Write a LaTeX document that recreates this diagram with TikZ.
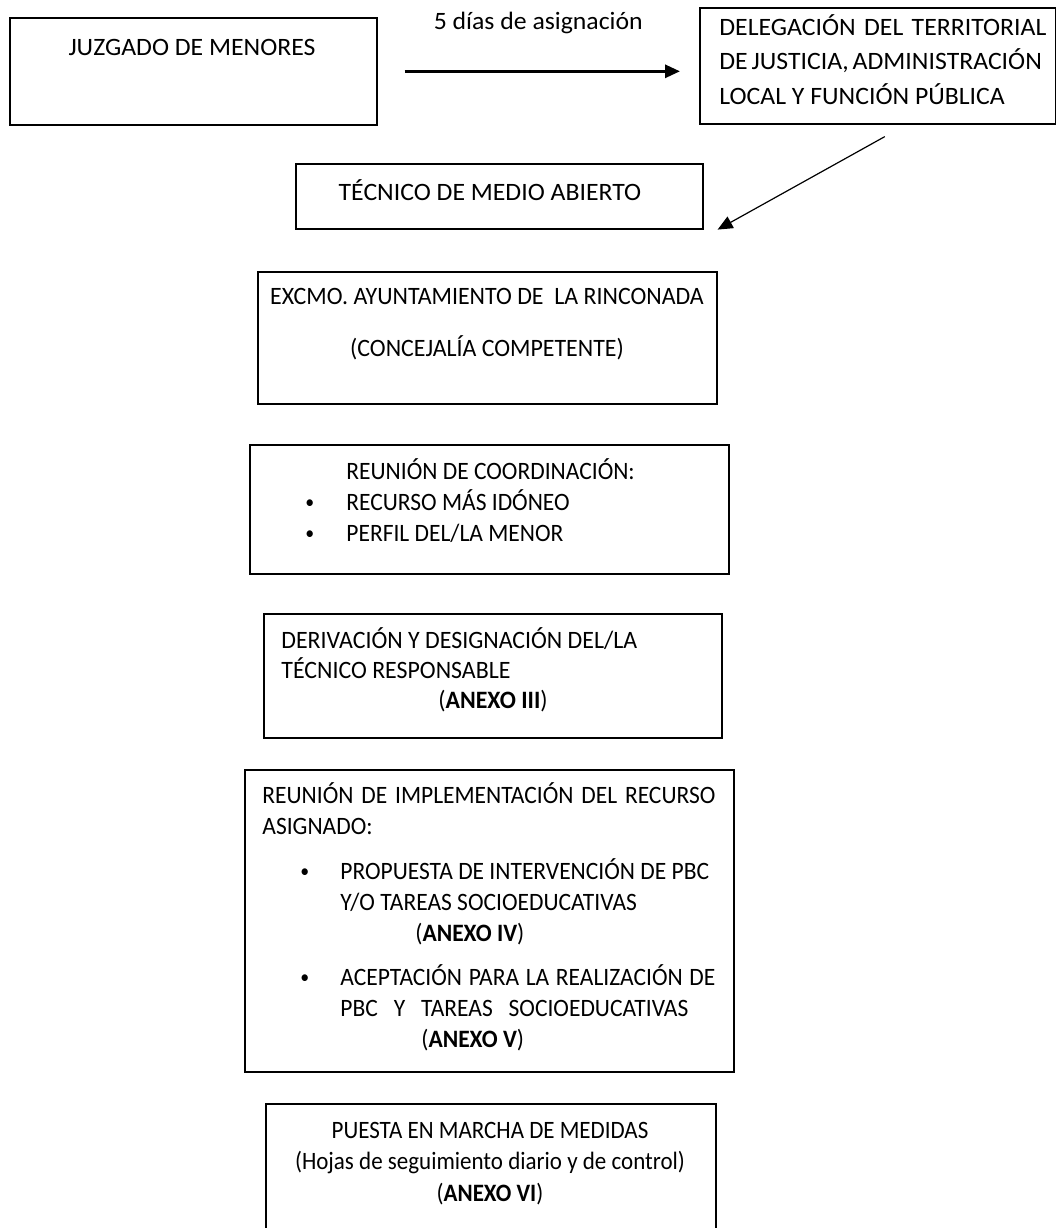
\documentclass[tikz,border=0pt]{standalone}
\usepackage{fontspec}
\setmainfont{Carlito}[FakeStretch=1.03]
\newfontfamily\midfont{Carlito}[FakeStretch=0.955]
\newfontfamily\narrowfont{Carlito}[FakeStretch=0.94]
\newfontfamily\narrowerfont{Carlito}[FakeStretch=0.92]
\newcommand\dotmark{\raisebox{0.7pt}{\fontsize{9.5}{9.5}\selectfont\textbullet}}
\usetikzlibrary{positioning,arrows.meta}

\begin{document}
\begin{tikzpicture}[
    x=0.5pt,y=-0.5pt,
    every node/.style={inner sep=0pt,font=\fontsize{12.5}{15.5}\selectfont},
    frame/.style={draw,line width=0.8pt,anchor=north west},
    txt/.style={anchor=base west,align=flush left},
    ctxt/.style={anchor=base,align=flush center},
    flow/.style={-{Triangle[length=7.5pt,width=6.5pt]}}
]
\useasboundingbox (0,0) rectangle (1056,1228);
\clip (0,0) rectangle (1056,1228);

% Frames
\node[frame,minimum width=183.5pt,minimum height=53.5pt] (juzgado) at (9,17) {};
\node[frame,minimum width=178pt,minimum height=58pt] (delegacion) at (699,7) {};
\node[frame,minimum width=203.5pt,minimum height=32.5pt] (tecnico) at (295,163) {};
\node[frame,minimum width=229.5pt,minimum height=66pt] (ayuntamiento) at (257,271) {};
\node[frame,minimum width=239.5pt,minimum height=64.5pt] (coordinacion) at (249,444) {};
\node[frame,minimum width=229pt,minimum height=62pt] (derivacion) at (263,613) {};
\node[frame,minimum width=244.5pt,minimum height=151pt] (implementacion) at (244,769) {};
\node[frame,minimum width=225pt,minimum height=70pt] (puesta) at (265,1103) {};

% Texts
\node[ctxt] (juzgadotxt) at (192,55) {JUZGADO DE MENORES};
\node[txt,text width=175pt,font=\fontsize{12.5}{17.25}\selectfont] (delegaciontxt) at (719,35)
    {\makebox[163.5pt][s]{DELEGACIÓN DEL TERRITORIAL}\\
     \makebox[161pt][s]{DE JUSTICIA, ADMINISTRACIÓN}\\
     LOCAL Y FUNCIÓN PÚBLICA};
\node[ctxt] (tecnicotxt) at (490,200) {TÉCNICO DE MEDIO ABIERTO};
\node[ctxt,text width=229.5pt,font=\midfont\fontsize{12.5}{15.5}\selectfont] (ayuntamientotxt) at (487,304)
    {EXCMO. AYUNTAMIENTO DE~~LA RINCONADA\\[10.5pt] (CONCEJALÍA COMPETENTE)};
\node[txt,text width=210pt,font=\narrowfont\fontsize{12.5}{15.5}\selectfont] (coordinaciontxt) at (305,479)
    {\hspace*{20.5pt}REUNIÓN DE COORDINACIÓN:\\
     \makebox[20.5pt][l]{\dotmark}RECURSO MÁS IDÓNEO\\
     \makebox[20.5pt][l]{\dotmark}PERFIL DEL/LA MENOR};
\node[txt,text width=220pt,font=\midfont\fontsize{12.5}{15}\selectfont] (derivaciontxt) at (281,648)
    {DERIVACIÓN Y DESIGNACIÓN DEL/LA\\
     TÉCNICO RESPONSABLE\\
     \hspace*{78.5pt}(\textbf{ANEXO III})};
\node[txt,text width=240pt,font=\narrowfont\fontsize{12.5}{15.5}\selectfont] (implementaciontxt) at (262,803)
    {\makebox[226.5pt][s]{REUNIÓN DE IMPLEMENTACIÓN DEL RECURSO}\\
     ASIGNADO:\\[7pt]
     \hspace*{19pt}\makebox[20pt][l]{\dotmark}\mbox{PROPUESTA DE INTERVENCIÓN DE PBC}\\
     \hspace*{39pt}Y/O TAREAS SOCIOEDUCATIVAS\\
     \hspace*{76.5pt}(\textbf{ANEXO IV})\\[6.5pt]
     \hspace*{19pt}\makebox[20pt][l]{\dotmark}\makebox[187.5pt][s]{ACEPTACIÓN PARA LA REALIZACIÓN DE}\\
     \hspace*{39pt}\makebox[174pt][s]{PBC Y TAREAS SOCIOEDUCATIVAS}\\
     \hspace*{79.5pt}(\textbf{ANEXO V})};
\node[ctxt,text width=225pt,font=\narrowerfont\fontsize{12.5}{15.75}\selectfont] (puestatxt) at (490,1138)
    {PUESTA EN MARCHA DE MEDIDAS\\
     (Hojas de seguimiento diario y de control)\\
     (\textbf{ANEXO VI})};

% Connections
\draw[flow,line width=1.5pt,shorten <=13.5pt,shorten >=9.5pt] (juzgado.east) -- (juzgado.east -| delegacion.west)
    node[midway,anchor=base,yshift=21pt] (plazo) {5 días de asignación};
\draw[flow,line width=0.6pt] ([xshift=3.5pt,yshift=-6pt]delegacion.south) -- ([xshift=7pt]tecnico.south east);

\end{tikzpicture}
\end{document}
